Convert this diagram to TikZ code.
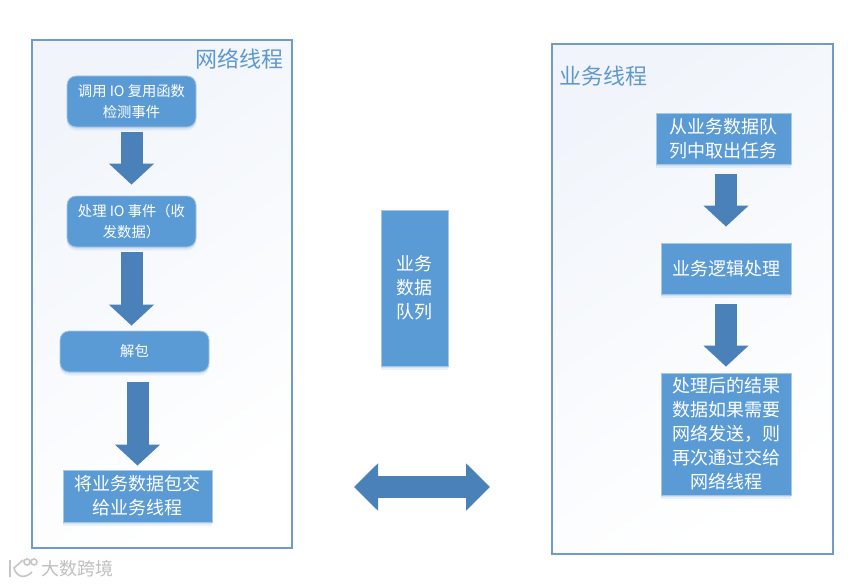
\documentclass[tikz,border=0pt]{standalone}
\usepackage{fontspec}
\setmainfont{Noto Sans CJK SC}
\usetikzlibrary{arrows.meta,shadows}
\definecolor{panelline}{HTML}{6F9BCB}
\definecolor{boxblue}{HTML}{5B9BD5}
\definecolor{arrowblue}{HTML}{4A81B8}
\definecolor{titleblue}{HTML}{5F98CF}
\definecolor{panelblue}{HTML}{F1F5FB}
\tikzset{
  panel/.style={draw=panelline, line width=1.1pt, top color=panelblue, bottom color=white, shading angle=35},
  softshadow/.style={
    drop shadow={shadow xshift=0pt, shadow yshift=-3.5pt, fill=boxblue, opacity=.12},
    drop shadow={shadow xshift=0pt, shadow yshift=-1.5pt, fill=boxblue, opacity=.18}},
  flowsquare/.style={draw=boxblue!55!white, line width=.8pt, fill=boxblue, text=white, align=center, inner sep=0pt, softshadow},
  flowround/.style={flowsquare, rounded corners=9pt, font=\fontsize{14.3}{21}\selectfont},
  flowtext/.style={flowsquare, font=\fontsize{18}{24}\selectfont},
  thread/.style={text=titleblue, font=\fontsize{22}{26}\selectfont, inner sep=0pt},
  blockarrow/.style={line width=22pt, draw=arrowblue, -{Triangle[length=21pt,width=44pt]}},
}
\begin{document}
\begin{tikzpicture}[x=1pt, y=-1pt]
    \useasboundingbox (0,0) rectangle (860,586);
    \fill[white] (0,0) rectangle (860,586);
    \draw[panel] (32,40) rectangle (292,548);
    \draw[panel] (552,44) rectangle (833,554);
    \node (nettitle) [thread] at (239,59) {网络线程};
    \node (worktitle) [thread] at (603.5,76) {业务线程};

    \node (detect) [flowround, minimum width=129pt, minimum height=51pt] at (131.5,101.5) {调用 IO 复用函数\\检测事件};
    \node (handle) [flowround, minimum width=129pt, minimum height=51pt] at (131.5,221.5) {处理 IO 事件（收\\发数据）};
    \node (unpack) [flowround, minimum width=149pt, minimum height=41pt] at (134.5,351.5) {解包};
    \node (submit) [flowtext, minimum width=149pt, minimum height=52pt] at (137.5,496) {将业务数据包交\\给业务线程};

    \node (queue) [flowtext, minimum width=67pt, minimum height=156pt] at (414.5,288) {业务\\数据\\队列};

    \node (fetch) [flowtext, minimum width=135pt, minimum height=51pt] at (723.5,138.5) {从业务数据队\\列中取出任务};
    \node (logic) [flowtext, minimum width=130pt, minimum height=51pt] at (726,268.5) {业务逻辑处理};
    \node (result) [flowtext, minimum width=130pt, minimum height=122pt] at (726,434) {处理后的结果\\数据如果需要\\网络发送，则\\再次通过交给\\网络线程};

    \draw[blockarrow, shorten <=5pt, shorten >=11pt] (detect) -- (handle);
    \draw[blockarrow, shorten <=5pt, shorten >=5pt] (handle.south) -- (handle.south |- unpack.north);
    \draw[blockarrow, shorten <=10pt, shorten >=4pt] (submit.north |- unpack.south) -- (submit.north);
    \draw[blockarrow, shorten <=10pt, shorten >=16pt] (logic.north |- fetch.south) -- (logic.north);
    \draw[blockarrow, shorten <=10pt, shorten >=6pt] (logic) -- (result);

    \coordinate (swapleft) at (354,487);
    \coordinate (swapright) at (490,487);
    \draw[blockarrow, {Triangle[length=24pt,width=46pt]}-{Triangle[length=24pt,width=46pt]}] (swapleft) -- (swapright);

    \node (mark) [text=gray!50, font=\fontsize{18}{20}\selectfont, inner sep=0pt] at (77.5,569) {大数跨境};
    \draw[gray!45, line width=1.6pt] (10,560) -- (10,577) (23,560) -- (14,568) .. controls (16,576) and (24,580) .. (32,572) (27,562) circle (3pt) (34,562) circle (3pt);
  \end{tikzpicture}
\end{document}
